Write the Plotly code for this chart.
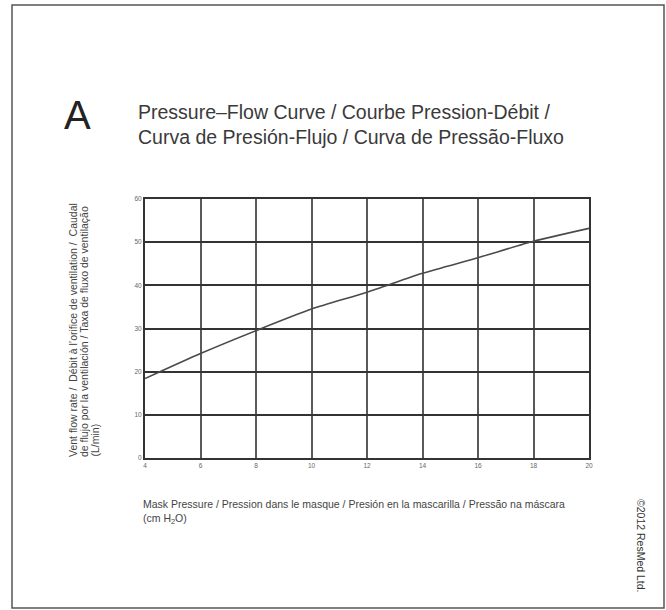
import plotly.graph_objects as go

pressure = [4, 6, 8, 10, 12, 14, 16, 18, 20]
flow = [18.4, 24.2, 29.5, 34.5, 38.4, 42.8, 46.4, 50.2, 53.2]

x_ticks = [4, 6, 8, 10, 12, 14, 16, 18, 20]
y_ticks = [0, 10, 20, 30, 40, 50, 60]

title_text = "Pressure–Flow Curve / Courbe Pression-Débit /<br>Curva de Presión-Flujo / Curva de Pressão-Fluxo"
x_title = "Mask Pressure / Pression dans le masque / Presión en la mascarilla / Pressão na máscara<br>(cm H<sub>2</sub>O)"
y_title_lines = [
    "Vent flow rate /  Débit à l’orifice de ventilation /  Caudal",
    "de flujo por la ventilación / Taxa de fluxo de ventilação",
    "(L/min)",
]
copyright_text = "©2012 ResMed Ltd."

W, H = 666, 610
L, R, T, B = 145, 589, 199, 458


def px(x):
    return (x - L) / (R - L)


def py(y):
    return (B - y) / (B - T)


FONT = "Liberation Sans"

fig = go.Figure()
fig.add_trace(go.Scatter(x=pressure, y=flow, mode="lines",
                         line=dict(color="#4a4a4a", width=1.6, shape="spline", smoothing=0.6),
                         showlegend=False, hoverinfo="skip"))

fig.update_layout(
    width=W, height=H,
    margin=dict(l=L, r=W - R, t=T, b=H - B),
    paper_bgcolor="white", plot_bgcolor="white",
    font=dict(family=FONT, color="#444"),
    showlegend=False,
    xaxis=dict(range=[4, 20], tickvals=x_ticks, ticktext=[str(v) for v in x_ticks],
               showgrid=True, gridcolor="#5a5a5a", gridwidth=1.5,
               showline=True, linecolor="#333", linewidth=2, mirror=True,
               zeroline=False, ticks="", tickfont=dict(size=6.5, color="#666"),
               fixedrange=True),
    yaxis=dict(range=[0, 60], tickvals=y_ticks, ticktext=[str(v) for v in y_ticks],
               showgrid=True, gridcolor="#333", gridwidth=1.5,
               showline=True, linecolor="#333", linewidth=2, mirror=True,
               zeroline=False, ticks="", tickfont=dict(size=6.5, color="#666"),
               fixedrange=True),
)

ann = []
ann.append(dict(text="A", x=px(62), y=py(139), xref="paper", yref="paper",
                xanchor="left", yanchor="bottom", showarrow=False,
                font=dict(family=FONT, size=40, color="#222")))
ann.append(dict(text=title_text, x=px(136), y=py(99), xref="paper", yref="paper",
                xanchor="left", yanchor="top", align="left", showarrow=False,
                font=dict(family=FONT, size=19.5, color="#3a3a3a")))
ann.append(dict(text=x_title, x=px(141), y=py(496), xref="paper", yref="paper",
                xanchor="left", yanchor="top", align="left", showarrow=False,
                font=dict(family=FONT, size=10.5, color="#444")))
for i, line in enumerate(y_title_lines):
    ann.append(dict(text=line, x=px(73 + 10.5 * i), y=py(459), xref="paper", yref="paper",
                    xanchor="center", yanchor="bottom", textangle=-90, showarrow=False,
                    font=dict(family=FONT, size=10.5, color="#444")))
ann.append(dict(text=copyright_text, x=px(641), y=py(497), xref="paper", yref="paper",
                xanchor="center", yanchor="top", textangle=90, showarrow=False,
                font=dict(family=FONT, size=10.5, color="#333")))
fig.update_layout(annotations=ann)

fig.add_shape(type="rect", xref="paper", yref="paper",
              x0=px(12), x1=px(664), y0=py(608), y1=py(5),
              line=dict(color="#555", width=1.5), fillcolor="rgba(0,0,0,0)", layer="below")

fig.write_html("out.html", config={"displayModeBar": False},
               post_script="document.body.style.margin='0';")
